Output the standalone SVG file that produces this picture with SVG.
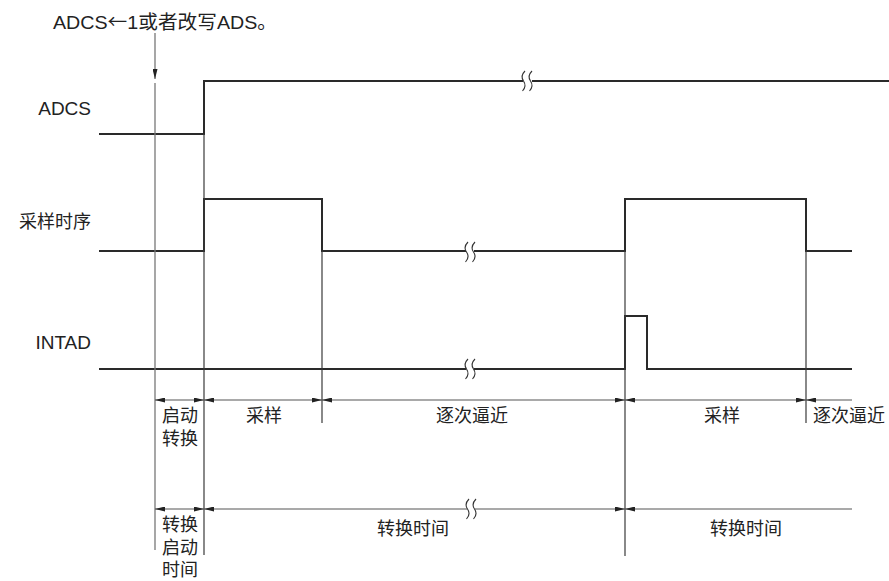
<svg xmlns="http://www.w3.org/2000/svg" width="889" height="581" viewBox="0 0 889 581">
<style>
text{font-family:"Liberation Sans","Noto Sans CJK SC",sans-serif;fill:#222;font-size:19px}
.c{font-family:"Noto Sans CJK SC",sans-serif;font-size:18px}
.m{text-anchor:middle}
.e{text-anchor:end}
.sig{fill:none;stroke:#2a2a2a;stroke-width:2}
.v{fill:none;stroke:#3a3a3a;stroke-width:1.2}
.v0{fill:none;stroke:#777;stroke-width:1.3}
.dim{fill:none;stroke:#555;stroke-width:1.1}
.brk{fill:none;stroke:#333;stroke-width:1.1}
</style>
<defs>
<marker id="ah" viewBox="0 0 10 5" refX="10" refY="2.5" markerWidth="10" markerHeight="5" markerUnits="userSpaceOnUse" orient="auto-start-reverse">
<path d="M0,0 L10,2.5 L0,5 Z" fill="#222"/>
</marker>
</defs>
<rect width="889" height="581" fill="#fff"/>

<g id="note">
<text x="53" y="29" font-size="20" textLength="224" lengthAdjust="spacingAndGlyphs">ADCS<tspan font-family="Noto Sans CJK SC, sans-serif">←</tspan>1或者改写ADS。</text>
</g>

<g id="labels">
<text id="lbl-adcs" x="91" y="115" class="e">ADCS</text>
<text id="lbl-samp" x="91" y="228" class="e c" font-size="18.5">采样时序</text>
<text id="lbl-intad" x="91" y="349" class="e">INTAD</text>
</g>

<g id="sig-adcs">
<path class="sig" d="M99,134 H204 V81 H523"/>
<path class="sig" d="M532,81 H889"/>
<path class="brk" d="M525,71 Q520,76 523.5,81 Q527,86 522.5,91"/>
<path class="brk" d="M532,71 Q527,76 530.5,81 Q534,86 529.5,91"/>
</g>

<g id="sig-samp">
<path class="sig" d="M99,251 H204 V199 H322 V251 H466"/>
<path class="sig" d="M474,251 H625 V199 H806 V251 H852"/>
<path class="brk" d="M468,242 Q463,247 466.5,252 Q470,257 465.5,262"/>
<path class="brk" d="M475,242 Q470,247 473.5,252 Q477,257 472.5,262"/>
</g>

<g id="sig-intad">
<path class="sig" d="M99,369 H466"/>
<path class="sig" d="M474,369 H625 V316 H647 V369 H852"/>
<path class="brk" d="M468,359 Q463,364 466.5,369 Q470,374 465.5,379"/>
<path class="brk" d="M475,359 Q470,364 473.5,369 Q477,374 472.5,379"/>
</g>

<g id="connectors">
<line class="v0" x1="155" y1="33" x2="155" y2="79" marker-end="url(#ah)"/>
<line class="v0" x1="155" y1="83" x2="155" y2="550"/>
<line class="v" x1="204" y1="134" x2="204" y2="555"/>
<line class="v" x1="322" y1="251" x2="322" y2="423"/>
<line class="v" x1="625" y1="251" x2="625" y2="556"/>
<line class="v" x1="806" y1="251" x2="806" y2="423"/>

<line class="dim" x1="155" y1="400" x2="204" y2="400" marker-start="url(#ah)" marker-end="url(#ah)"/>
<line class="dim" x1="204" y1="400" x2="322" y2="400" marker-start="url(#ah)" marker-end="url(#ah)"/>
<line class="dim" x1="322" y1="400" x2="625" y2="400" marker-start="url(#ah)" marker-end="url(#ah)"/>
<line class="dim" x1="625" y1="400" x2="806" y2="400" marker-start="url(#ah)" marker-end="url(#ah)"/>
<line class="dim" x1="806" y1="400" x2="852" y2="400" marker-start="url(#ah)"/>

<line class="dim" x1="155" y1="509" x2="204" y2="509" marker-start="url(#ah)" marker-end="url(#ah)"/>
<line class="dim" x1="204" y1="509" x2="467" y2="509" marker-start="url(#ah)"/>
<line class="dim" x1="475" y1="509" x2="625" y2="509" marker-end="url(#ah)"/>
<path class="brk" d="M469,499 Q464,504 467.5,509 Q471,514 466.5,519"/>
<path class="brk" d="M476,499 Q471,504 474.5,509 Q478,514 473.5,519"/>
<line class="dim" x1="625" y1="509" x2="852" y2="509" marker-start="url(#ah)"/>
</g>

<g id="phase-labels">
<text x="180" y="422" class="m c">启动</text>
<text x="180" y="445" class="m c">转换</text>
<text x="264" y="422" class="m c" font-size="18.5">采样</text>
<text x="472" y="422" class="m c" font-size="18.5">逐次逼近</text>
<text x="722" y="422" class="m c" font-size="18.5">采样</text>
<text x="813" y="422" class="c" font-size="18.5">逐次逼近</text>
<text x="180" y="531" class="m c">转换</text>
<text x="180" y="554" class="m c">启动</text>
<text x="180" y="576" class="m c">时间</text>
<text x="413" y="535" class="m c" font-size="18.5">转换时间</text>
<text x="746" y="535" class="m c" font-size="18.5">转换时间</text>
</g>
</svg>
